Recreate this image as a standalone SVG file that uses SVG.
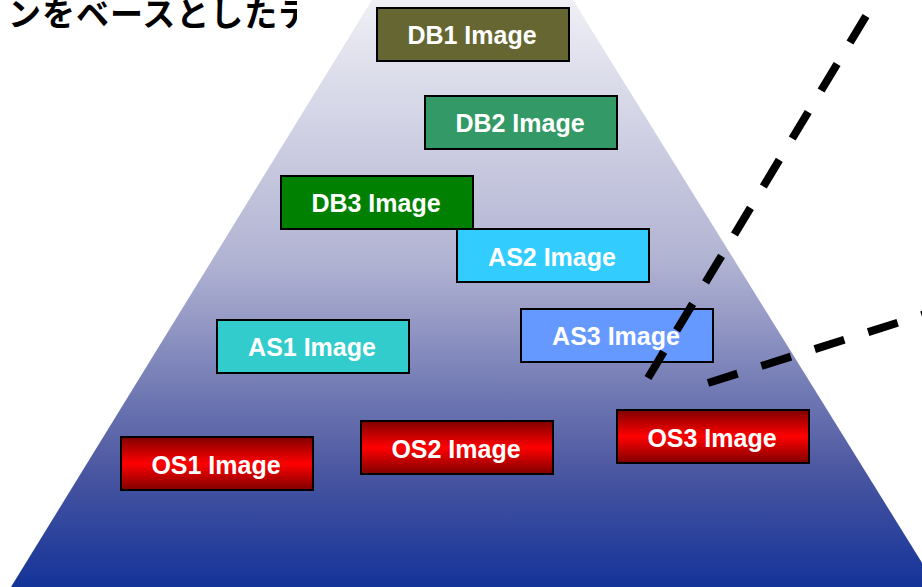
<svg xmlns="http://www.w3.org/2000/svg" width="922" height="587" viewBox="0 0 922 587">
<defs>
<linearGradient id="pyr" x1="0" y1="0" x2="0" y2="587" gradientUnits="userSpaceOnUse">
<stop offset="0" stop-color="#efeff5"/>
<stop offset="0.45" stop-color="#b0b2d2"/>
<stop offset="0.8" stop-color="#4b57a1"/>
<stop offset="1" stop-color="#143399"/>
</linearGradient>
<linearGradient id="red" x1="0" y1="0" x2="0" y2="1">
<stop offset="0" stop-color="#800000"/>
<stop offset="0.5" stop-color="#ff0000"/>
<stop offset="1" stop-color="#800000"/>
</linearGradient>
<clipPath id="titleClip"><rect x="0" y="0" width="297" height="60"/></clipPath>
</defs>
<style>
.box{stroke:#000;stroke-width:2}
.lbl{font-family:"Liberation Sans",Arial,sans-serif;font-weight:bold;font-size:25px;fill:#fff;text-anchor:middle}
.dash{stroke:#000;stroke-width:8;fill:none;stroke-dasharray:31 25}
</style>
<rect width="922" height="587" fill="#fff"/>
<polygon points="372,0 573,0 937,587 11,587" fill="url(#pyr)"/>
<g clip-path="url(#titleClip)">
<text x="8" y="26" font-family="'Noto Sans CJK JP',sans-serif" font-weight="bold" font-size="33" letter-spacing="1" fill="#000">ンをベースとしたテ</text>
</g>
<g id="DB1"><rect class="box" x="377" y="8" width="192" height="53" fill="#666633"/><text class="lbl" x="472" y="44">DB1 Image</text></g>
<g id="DB2"><rect class="box" x="425" y="96" width="192" height="53" fill="#339966"/><text class="lbl" x="520" y="132">DB2 Image</text></g>
<g id="DB3"><rect class="box" x="281" y="176" width="192" height="53" fill="#008000"/><text class="lbl" x="376" y="212">DB3 Image</text></g>
<g id="AS2"><rect class="box" x="457" y="229" width="192" height="53" fill="#33ccff"/><text class="lbl" x="552" y="266">AS2 Image</text></g>
<g id="AS1"><rect class="box" x="217" y="320" width="192" height="53" fill="#33cccc"/><text class="lbl" x="312" y="356">AS1 Image</text></g>
<g id="AS3"><rect class="box" x="521" y="309" width="192" height="53" fill="#6699ff"/><text class="lbl" x="616" y="345">AS3 Image</text></g>
<g id="OS1"><rect class="box" x="121" y="437" width="192" height="53" fill="url(#red)"/><text class="lbl" x="216" y="474">OS1 Image</text></g>
<g id="OS2"><rect class="box" x="361" y="421" width="192" height="53" fill="url(#red)"/><text class="lbl" x="456" y="458">OS2 Image</text></g>
<g id="OS3"><rect class="box" x="617" y="410" width="192" height="53" fill="url(#red)"/><text class="lbl" x="712" y="447">OS3 Image</text></g>
<g id="connectors">
<line class="dash" x1="866" y1="16" x2="648" y2="378"/>
<line class="dash" x1="708" y1="383" x2="960" y2="303"/>
</g>
</svg>
